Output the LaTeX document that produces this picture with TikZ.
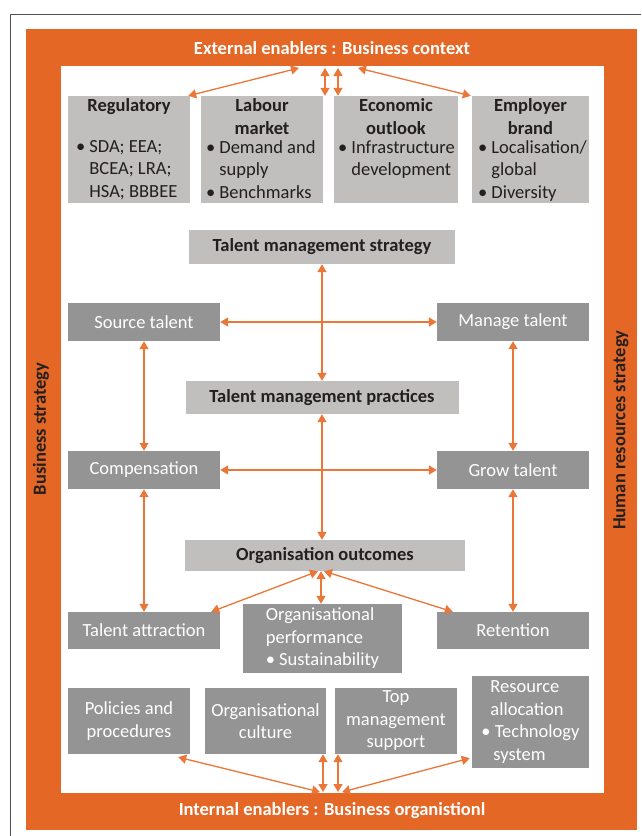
\documentclass[tikz,border=0pt]{standalone}
\usepackage{fontspec}
\setmainfont{Carlito}
\usetikzlibrary{arrows.meta}

\definecolor{bandorange}{RGB}{228,103,37}
\definecolor{linkorange}{RGB}{234,118,55}
\definecolor{boxlight}{RGB}{192,191,189}
\definecolor{boxdark}{RGB}{148,148,148}
\definecolor{textdark}{RGB}{35,31,32}
\definecolor{framegrey}{RGB}{80,80,80}

\tikzset{
  bandlabel/.style={text=white, font=\bfseries, inner sep=0pt},
  sidelabel/.style={text=textdark, font=\bfseries, rotate=90, inner sep=0pt},
  enabler/.style={fill=boxlight, text=textdark, inner xsep=3pt, inner ysep=3pt},
  stratbox/.style={fill=boxlight, text=textdark, font=\bfseries, inner sep=0pt},
  practice/.style={fill=boxdark, text=white, inner sep=0pt, align=center},
  link/.style={draw=linkorange, line width=1.3pt,
    {Triangle[length=8pt,width=9pt]}-{Triangle[length=8pt,width=9pt]}},
}

\newcommand{\bitem}[1]{\par\setbox0\hbox{\textbullet\ }\hangindent=\wd0 \hangafter=1 \noindent\box0 #1}
\newcommand{\enablertext}[2]{\parbox[c][101pt][t]{#1}{\raggedright\hyphenpenalty=10000 #2}}

\begin{document}
\fontsize{18.5}{22.5}\selectfont
\begin{tikzpicture}[x=1pt, y=-1pt]
\useasboundingbox (0,0) rectangle (641,836);

% Cadre
\draw[framegrey, line width=1pt] (10.5,836) -- (10.5,14.5) -- (641,14.5);
\fill[bandorange] (26,29) rectangle (637,830);
\fill[white] (61,66) rectangle (604,793);

\node[bandlabel] (ext) at (332,48) {External enablers : Business context};
\node[bandlabel] (int) at (332,811) {Internal enablers : Business organistionl};
\node[sidelabel] (bus) at (41,429) {Business strategy};
\node[sidelabel] (hrs) at (621,430) {Human resources strategy};

% External enablers
\node[enabler, inner xsep=8pt] (reg) at (129,149.5) {\enablertext{106pt}{{\centering\bfseries Regulatory\par}\vspace{18pt}%
  \bitem{SDA; EEA;\newline BCEA; LRA;\newline HSA; BBBEE}}};
\node[enabler, inner xsep=5pt] (lab) at (262,149.5) {\enablertext{112pt}{{\centering\bfseries Labour\\market\par}\vspace{-3.5pt}%
  \bitem{Demand and\newline supply}\bitem{Benchmarks}}};
\node[enabler, inner xsep=4pt] (eco) at (396,149.5) {\enablertext{116pt}{{\centering\bfseries Economic\\outlook\par}\vspace{-3.5pt}%
  \bitem{Infrastructure\newline development}}};
\node[enabler, inner xsep=6pt] (emp) at (530.5,149.5) {\enablertext{105pt}{{\centering\bfseries Employer\\brand\par}\vspace{-3.5pt}%
  \bitem{Localisation/\newline global}\bitem{Diversity}}};

% Strategie et pratiques
\node[stratbox, minimum width=266pt, minimum height=34pt] (tms) at (322,247) {Talent management strategy};
\node[practice, minimum width=152pt, minimum height=38pt] (source) at (144,322) {Source talent};
\node[practice, minimum width=152pt, minimum height=38pt] (manage) at (513,322) {Manage talent};
\node[stratbox, minimum width=273pt, minimum height=33pt] (tmp) at (322,397.5) {Talent management practices};
\node[practice, minimum width=152pt, minimum height=38pt] (comp) at (144,470) {Compensation};
\node[practice, minimum width=152pt, minimum height=38pt] (grow) at (513,470) {Grow talent};
\node[stratbox, minimum width=280pt, minimum height=31pt] (outc) at (325,555.5) {Organisation outcomes};

% Resultats
\node[practice, minimum width=152pt, minimum height=37pt] (attr) at (144,630.5) {Talent attraction};
\node[practice, minimum width=159pt, minimum height=69pt, align=left] (perf) at (322.5,638.5)
  {Organisational\\performance\\\textbullet\ Sustainability};
\node[practice, minimum width=152pt, minimum height=37pt] (ret) at (513,630.5) {Retention};

% Internal enablers
\node[practice, minimum width=122pt, minimum height=66pt] (pol) at (129,721) {Policies and\\procedures};
\node[practice, minimum width=121pt, minimum height=66pt] (cult) at (265.5,721) {Organisational\\culture};
\node[practice, minimum width=122pt, minimum height=66pt] (support) at (396,721) {Top\\management\\support};
\node[practice, minimum width=117pt, minimum height=92pt, align=left] (res) at (530.5,722)
  {\hspace*{9pt}Resource\\\hspace*{9pt}allocation\\\textbullet\ Technology\\\hspace*{12pt}system};

% Relations
\coordinate (ext-a) at (299,68);
\coordinate (ext-b) at (325,68);
\coordinate (ext-c) at (338,68);
\coordinate (ext-d) at (358,68);
\draw[link] (ext-a) -- ([xshift=-2pt]reg.north east);
\draw[link] (ext-b) -- (ext-b |- lab.north);
\draw[link] (ext-c) -- (ext-c |- eco.north);
\draw[link] (ext-d) -- ([xshift=-1pt]emp.north west);

\draw[link] (tms.south) -- (tms.south |- tmp.north);
\draw[link] (source.east) -- (manage.west);
\draw[link] (tmp.south) -- (tmp.south |- outc.north);
\draw[link] (comp.east) -- (grow.west);
\draw[link] (source.south) -- (comp.north);
\draw[link] (manage.south) -- (grow.north);
\draw[link] (comp.south) -- (attr.north);
\draw[link] (grow.south) -- (ret.north);

\draw[link] ([xshift=-7pt]outc.south) -- ([xshift=-9pt]attr.north east);
\draw[link] ([xshift=-4pt]outc.south) -- ([xshift=-4pt]outc.south |- perf.north);
\draw[link] ([xshift=-1pt]outc.south) -- ([xshift=16pt]ret.north west);

\coordinate (int-a) at (320,792);
\coordinate (int-b) at (323,792);
\coordinate (int-c) at (338,792);
\coordinate (int-d) at (342,792);
\draw[link] (int-a) -- ([xshift=-12pt,yshift=-3pt]pol.south east);
\draw[link] (int-b) -- (int-b |- cult.south);
\draw[link] (int-c) -- (int-c |- support.south);
\draw[link] (int-d) -- ([xshift=-2pt,yshift=10pt]res.south west);

\end{tikzpicture}
\end{document}
